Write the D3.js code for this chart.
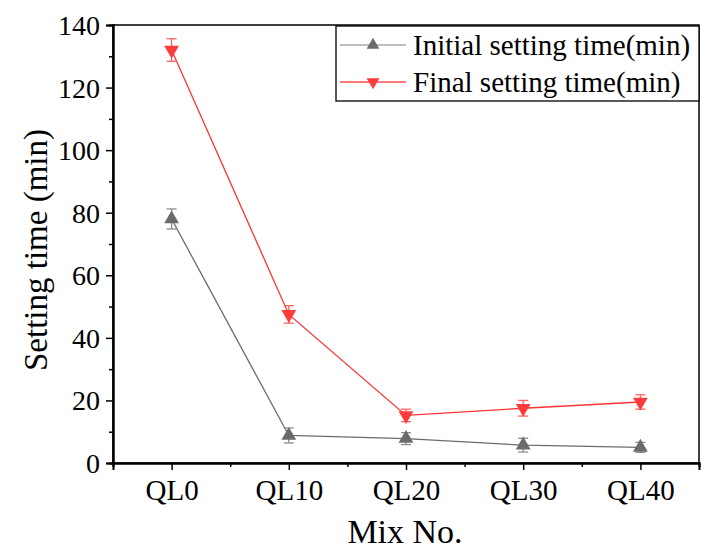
<!DOCTYPE html>
<meta charset="utf-8">
<title>Setting time</title>
<style>
body { margin: 0; background: #fff; }
text { font-family: "Liberation Serif", "Times New Roman", serif; fill: #000; }
</style>
<body>
<script src="https://cdnjs.cloudflare.com/ajax/libs/d3/7.8.5/d3.min.js"></script>
<script>
var mixes = ["QL0", "QL10", "QL20", "QL30", "QL40"];
var initialTime = [78, 8.8, 7.8, 5.7, 5.0];
var initialErr = [3.2, 2.4, 1.9, 2.2, 1.6];
var finalTime = [132, 47.5, 15.2, 17.5, 19.5];
var finalErr = [3.6, 2.8, 2.0, 2.5, 2.3];
var yTicks = [0, 20, 40, 60, 80, 100, 120, 140];

var w = 716, h = 557,
    pLeft = 113, pRight = 699, pTop = 25, pBottom = 463;

var svg = d3.select("body").append("svg")
    .attr("width", w)
    .attr("height", h);

var x = d3.scaleLinear().domain([-0.5, 4.5]).range([pLeft, pRight]);
var y = d3.scaleLinear().domain([0, 140]).range([pBottom, pTop]);

// frame
svg.append("rect")
    .attr("x", pLeft).attr("y", pTop)
    .attr("width", pRight - pLeft).attr("height", pBottom - pTop)
    .attr("fill", "none").attr("stroke", "#000").attr("stroke-width", 1.5);

// y axis
var gy = svg.append("g").attr("transform", "translate(" + pLeft + ",0)")
    .call(d3.axisLeft(y).tickValues(yTicks).tickSize(7).tickPadding(6));
gy.append("g").call(d3.axisLeft(y).tickValues(d3.range(10, 140, 20)).tickSize(4).tickFormat(""));
gy.selectAll(".domain").attr("stroke-width", 2);
gy.selectAll("line").attr("stroke-width", 1.5);
gy.selectAll("text").style("font-size", "28px").attr("dy", "0.34em");

// x axis
var gx = svg.append("g").attr("transform", "translate(0," + pBottom + ")")
    .call(d3.axisBottom(x).tickValues(d3.range(5)).tickFormat(function(i) { return mixes[i]; })
      .tickSize(7).tickPadding(9));
gx.append("g").call(d3.axisBottom(x).tickValues([-0.5, 0.5, 1.5, 2.5, 3.5, 4.5]).tickSize(4).tickFormat(""));
gx.selectAll(".domain").attr("stroke-width", 2);
gx.selectAll("line").attr("stroke-width", 1.5);
gx.selectAll("text").style("font-size", "29px");

// axis titles
svg.append("text")
    .attr("transform", "translate(47," + ((pTop + pBottom) / 2 + 6) + ") rotate(-90)")
    .attr("text-anchor", "middle")
    .style("font-size", "33px")
    .text("Setting time (min)");
svg.append("text")
    .attr("x", (pLeft + pRight) / 2 - 1).attr("y", 543)
    .attr("text-anchor", "middle")
    .style("font-size", "34px")
    .text("Mix No.");

var series = [
  {name: "Initial setting time(min)", values: initialTime, err: initialErr, line: "#6b6b6b", legendLine: "#a8a8a8", fill: "#6b6b6b", errColor: "#8c8c8c", rot: 0},
  {name: "Final setting time(min)", values: finalTime, err: finalErr, line: "#ff3333", legendLine: "#ff4d4d", fill: "#ff3b3b", errColor: "#ff6060", rot: 180}
];

var line = d3.line().x(function(d, i) { return x(i); }).y(function(d) { return y(d); });
var marker = d3.symbol().type(d3.symbolTriangle).size(95);
var legendMarker = d3.symbol().type(d3.symbolTriangle).size(70);

series.forEach(function(s) {
  var g = svg.append("g");
  g.append("path").datum(s.values)
      .attr("d", line).attr("fill", "none")
      .attr("stroke", s.line).attr("stroke-width", 1.3);
  var eb = g.selectAll(".eb").data(s.values).enter().append("g");
  eb.append("line")
      .attr("x1", function(d, i) { return x(i); }).attr("x2", function(d, i) { return x(i); })
      .attr("y1", function(d, i) { return y(d + s.err[i]); })
      .attr("y2", function(d, i) { return y(d - s.err[i]); });
  eb.append("line")
      .attr("x1", function(d, i) { return x(i) - 5; }).attr("x2", function(d, i) { return x(i) + 5; })
      .attr("y1", function(d, i) { return y(d + s.err[i]); })
      .attr("y2", function(d, i) { return y(d + s.err[i]); });
  eb.append("line")
      .attr("x1", function(d, i) { return x(i) - 5; }).attr("x2", function(d, i) { return x(i) + 5; })
      .attr("y1", function(d, i) { return y(d - s.err[i]); })
      .attr("y2", function(d, i) { return y(d - s.err[i]); });
  eb.selectAll("line").attr("stroke", s.errColor).attr("stroke-width", 1.3);
  g.selectAll(".m").data(s.values).enter().append("path")
      .attr("d", marker())
      .attr("transform", function(d, i) { return "translate(" + x(i) + "," + y(d) + ") rotate(" + s.rot + ")"; })
      .attr("fill", s.fill);
});

// legend
var lg = svg.append("g");
lg.append("rect")
    .attr("x", 336).attr("y", pTop + 1)
    .attr("width", pRight - 336).attr("height", 75)
    .attr("fill", "#fff").attr("stroke", "#000").attr("stroke-width", 1.3);
series.forEach(function(s, i) {
  var ly = 45 + i * 37;
  lg.append("line").attr("x1", 340).attr("x2", 406).attr("y1", ly).attr("y2", ly)
      .attr("stroke", s.legendLine).attr("stroke-width", 1.3);
  lg.append("path").attr("d", legendMarker())
      .attr("transform", "translate(373," + ly + ") rotate(" + s.rot + ")")
      .attr("fill", s.fill);
  lg.append("text").attr("x", 413).attr("y", ly).attr("dy", "0.33em")
      .style("font-size", "29px").text(s.name);
});
</script>
